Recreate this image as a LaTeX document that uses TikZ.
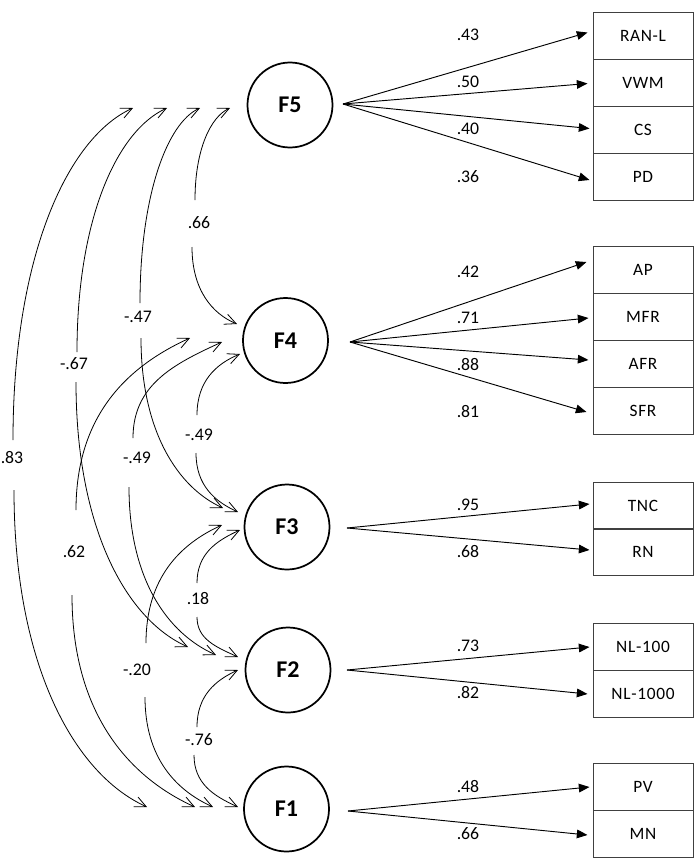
\documentclass[tikz,border=0pt]{standalone}
\usepackage{fontspec}
\setmainfont{Carlito}
\newfontfamily\boxfont[LetterSpace=4]{Carlito}
\usetikzlibrary{arrows.meta,calc}
\begin{document}
\begin{tikzpicture}[x=0.75pt,y=-0.75pt,
  fac/.style={circle,draw,line width=1.3pt,minimum size=63.75pt,inner sep=0pt,font=\fontsize{18}{21}\selectfont\bfseries},
  obs/.style={draw=black!75,line width=0.75pt,minimum width=75pt,minimum height=35.25pt,inner sep=0pt,font=\fontsize{13}{15}\selectfont\boxfont},
  num/.style={inner sep=0pt,font=\fontsize{13.3}{15}\selectfont},
  load/.style={line width=0.7pt,-{Triangle[length=8pt,width=6.5pt]}},
  corr/.style={line width=0.6pt,-{Straight Barb[length=8.5pt,width=8pt]}}]
\useasboundingbox (0,0) rectangle (695,868);

% factors
\node[fac] (f5) at (290,105) {F5};
\node[fac] (f4) at (285.5,340.5) {F4};
\node[fac] (f3) at (287,527) {F3};
\node[fac] (f2) at (288,670) {F2};
\node[fac] (f1) at (286.5,809) {F1};

% indicators
\node[obs] (ranl) at (643,35.5) {RAN-L};
\node[obs] (vwm) at (643,82.5) {VWM};
\node[obs] (cs) at (643,129.5) {CS};
\node[obs] (pd) at (643,176.5) {PD};
\node[obs] (ap) at (643,269.5) {AP};
\node[obs] (mfr) at (643,316.5) {MFR};
\node[obs] (afr) at (643,363.5) {AFR};
\node[obs] (sfr) at (643,410.5) {SFR};
\node[obs] (tnc) at (643,505.5) {TNC};
\node[obs] (rn) at (643,552) {RN};
\node[obs] (nla) at (643,646.5) {NL-100};
\node[obs] (nlb) at (643,693.5) {NL-1000};
\node[obs] (pv) at (643,786.5) {PV};
\node[obs] (mn) at (643,833.5) {MN};

% loading origins
\coordinate (o5) at (343,104);
\coordinate (o4) at (350,342);
\coordinate (o3) at (347,528);
\coordinate (o2) at (347,670);
\coordinate (o1) at (348,811);

\draw[load] (o5) -- ($(ranl.west)+(-5,-3)$);
\draw[load] (o5) -- ($(vwm.west)+(-5,1)$);
\draw[load] (o5) -- ($(cs.west)+(-3,-1)$);
\draw[load] (o5) -- ($(pd.west)+(-3,3.5)$);
\draw[load] (o4) -- ($(ap.west)+(-6,-7.5)$);
\draw[load] (o4) -- ($(mfr.west)+(-4,1.5)$);
\draw[load] (o4) -- ($(afr.west)+(-4,-3.5)$);
\draw[load] (o4) -- ($(sfr.west)+(-6,1.5)$);
\draw[load] (o3) -- ($(tnc.west)+(-3,-1.5)$);
\draw[load] (o3) -- ($(rn.west)+(-3,-2)$);
\draw[load] (o2) -- ($(nla.west)+(-3,0.5)$);
\draw[load] (o2) -- ($(nlb.west)+(-5,0.5)$);
\draw[load] (o1) -- ($(pv.west)+(-3,0.5)$);
\draw[load] (o1) -- ($(mn.west)+(-5,1.5)$);

\node[num] (l43) at (468,35) {.43};
\node[num] (l50) at (468,82) {.50};
\node[num] (l40) at (468,129) {.40};
\node[num] (l36) at (468,177) {.36};
\node[num] (l42) at (468,272) {.42};
\node[num] (l71) at (468,318) {.71};
\node[num] (l88) at (468,365) {.88};
\node[num] (l81) at (468,412) {.81};
\node[num] (l95) at (468,505) {.95};
\node[num] (l68) at (468,552) {.68};
\node[num] (l73) at (468,646) {.73};
\node[num] (l82) at (468,693) {.82};
\node[num] (l48) at (468,787) {.48};
\node[num] (l66b) at (468,834) {.66};

% correlation tips
\coordinate (t5a) at (133,108);
\coordinate (t5b) at (167,108);
\coordinate (t5c) at (200,108);
\coordinate (t5d) at (230,108);
\coordinate (t4a) at (237,324);
\coordinate (t4b) at (190,338);
\coordinate (t4c) at (222,342);
\coordinate (t4d) at (240,354);
\coordinate (t3a) at (223,508);
\coordinate (t3b) at (238,512);
\coordinate (t3c) at (222,525);
\coordinate (t3d) at (240,530);
\coordinate (t2a) at (188,647);
\coordinate (t2b) at (216,655);
\coordinate (t2c) at (238,657);
\coordinate (t2d) at (238,670);
\coordinate (t1a) at (147,807);
\coordinate (t1b) at (195,807);
\coordinate (t1c) at (213,807);
\coordinate (t1d) at (238,807);

% correlation labels
\node[num] (c83) at (12,458) {.83};
\node[num] (c67) at (74,364) {-.67};
\node[num] (c47) at (138,317) {-.47};
\node[num] (c66) at (199,223) {.66};
\node[num] (c62) at (74,552) {.62};
\node[num] (c49r) at (199,435) {-.49};
\node[num] (c49l) at (137,458) {-.49};
\node[num] (c20) at (137,670) {-.20};
\node[num] (c18) at (198,599) {.18};
\node[num] (c76) at (199,740) {-.76};

% gap ends
\coordinate (g83u) at (13,440);   \coordinate (g83d) at (14,490);
\coordinate (g67u) at (77,352);   \coordinate (g67d) at (76,382);
\coordinate (g47u) at (140,303);  \coordinate (g47d) at (141,338);
\coordinate (g66u) at (195,200);  \coordinate (g66d) at (192,247);
\coordinate (g62u) at (76,510);   \coordinate (g62d) at (72,595);
\coordinate (g49ru) at (197,415); \coordinate (g49rd) at (196,453);
\coordinate (g49lu) at (133,438); \coordinate (g49ld) at (129,487);
\coordinate (g20u) at (146,643);  \coordinate (g20d) at (145,697);
\coordinate (g18u) at (197,583);  \coordinate (g18d) at (197,617);
\coordinate (g76u) at (197,727);  \coordinate (g76d) at (194,755);

% .83 F5-F1
\draw[corr] (g83u) .. controls (13,257.4) and (67,138) .. (t5a);
\draw[corr] (g83d) .. controls (14,664.4) and (73.8,773.75) .. (t1a);
% -.67 F5-F2
\draw[corr] (g67u) .. controls (77,217.8) and (117.5,130.5) .. (t5b);
\draw[corr] (g67d) .. controls (76,527.75) and (126,619.25) .. (t2a);
% -.47 F5-F3
\draw[corr] (g47u) .. controls (140,196) and (167,123) .. (t5c);
\draw[corr] (g47d) .. controls (141,431.5) and (178,487.5) .. (t3a);
% .66 F5-F4
\draw[corr] (g66u) .. controls (195,149.4) and (210.75,116.75) .. (t5d);
\draw[corr] (g66d) .. controls (192,289.9) and (212.25,313.75) .. (t4a);
% .62 F4-F1
\draw[corr] (g62u) .. controls (76,415.4) and (127.3,366.5) .. (t4b);
\draw[corr] (g62d) .. controls (72,711.6) and (127.35,776.25) .. (t1b);
% -.49 F4-F3
\draw[corr] (g49ru) .. controls (197,381) and (216.35,363.75) .. (t4d);
\draw[corr] (g49rd) .. controls (196,485.5) and (214.9,501.5) .. (t3b);
% -.49 F4-F2
\draw[corr] (g49lu) .. controls (133,385.2) and (173,364.25) .. (t4c);
\draw[corr] (g49ld) .. controls (129,579.4) and (167.7,633.5) .. (t2b);
% -.20 F3-F1
\draw[corr] (g20u) .. controls (146,578) and (180.2,544) .. (t3c);
\draw[corr] (g20d) .. controls (145,757.5) and (175.6,790) .. (t1c);
% .18 F3-F2
\draw[corr] (g18u) .. controls (197,553.85) and (216.35,540.75) .. (t3d);
\draw[corr] (g18d) .. controls (197,639) and (215.45,646.75) .. (t2c);
% -.76 F2-F1
\draw[corr] (g76u) .. controls (197,695.65) and (215.45,680.25) .. (t2d);
\draw[corr] (g76d) .. controls (194,783.6) and (213.8,796) .. (t1d);
\end{tikzpicture}
\end{document}
